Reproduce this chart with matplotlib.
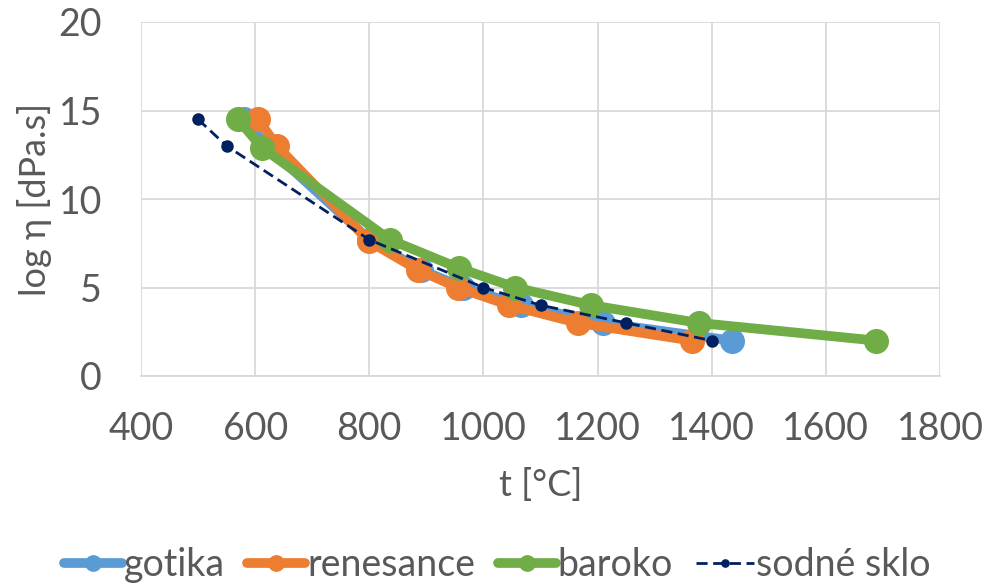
import matplotlib
matplotlib.use("Agg")
import matplotlib.pyplot as plt

plt.rcParams['font.family'] = ['Lato', 'DejaVu Sans']

gotika_t = [580, 620, 800, 890, 965, 1065, 1210, 1435]
gotika_v = [14.5, 13, 7.7, 6, 5, 4, 3, 2]
renesance_t = [605, 638, 800, 885, 955, 1045, 1165, 1365]
renesance_v = [14.5, 13, 7.6, 6, 5, 4, 3, 2]
baroko_t = [570, 612, 836, 957, 1056, 1189, 1377, 1688]
baroko_v = [14.5, 12.9, 7.7, 6.1, 5, 4, 3, 2]
sklo_t = [500, 550, 800, 1000, 1100, 1250, 1400]
sklo_v = [14.5, 13, 7.7, 5, 4, 3, 2]

xticks = [400, 600, 800, 1000, 1200, 1400, 1600, 1800]
yticks = [0, 5, 10, 15, 20]

W, H = 990, 586
fig = plt.figure(figsize=(W/100, H/100), dpi=100)
L, R, T, B = 141, 940, 22, 376
ax = fig.add_axes([L/W, 1-B/H, (R-L)/W, (B-T)/H])

txt = '#595959'
ax.plot(gotika_t, gotika_v, color='#5b9bd5', lw=7, marker='o', ms=17, label='gotika', solid_capstyle='round')
ax.plot(renesance_t, renesance_v, color='#ed7d31', lw=7, marker='o', ms=17, label='renesance', solid_capstyle='round')
ax.plot(baroko_t, baroko_v, color='#70ad47', lw=7, marker='o', ms=17, label='baroko', solid_capstyle='round')
ax.plot(sklo_t, sklo_v, color='#002060', lw=2, ls=(0, (4, 2)), marker='o', ms=8, label='sodné sklo')

ax.set_xlim(400, 1800)
ax.set_ylim(0, 20)
ax.set_xticks(xticks)
ax.set_yticks(yticks)
ax.grid(True, color='#d9d9d9', lw=1.3)
ax.set_axisbelow(True)
for s in ['top', 'right', 'left']:
    ax.spines[s].set_visible(False)
ax.spines['bottom'].set_color('#d9d9d9')
ax.spines['bottom'].set_linewidth(1.3)
ax.tick_params(axis='both', length=0, labelsize=27, colors=txt)
ax.tick_params(axis='x', pad=25)
ax.tick_params(axis='y', pad=28)
ax.set_xlabel('t [°C]', fontsize=26, color=txt)
ax.set_ylabel('log η [dPa.s]', fontsize=26, color=txt)
ax.xaxis.label.set_va('center')
ax.yaxis.label.set_va('center')
ax.xaxis.set_label_coords(0.5, (B-485)/(B-T))
ax.yaxis.set_label_coords((35-L)/(R-L), 0.5)

leg = fig.legend(loc='center', bbox_to_anchor=(0.502, 1-565/H), ncol=4, frameon=False,
                 fontsize=27, handlelength=1.55, handletextpad=0.05, columnspacing=0.6,
                 markerscale=0.65, borderaxespad=0, borderpad=0)
for t in leg.get_texts():
    t.set_color(txt)

fig.savefig('out.png', dpi=100)
